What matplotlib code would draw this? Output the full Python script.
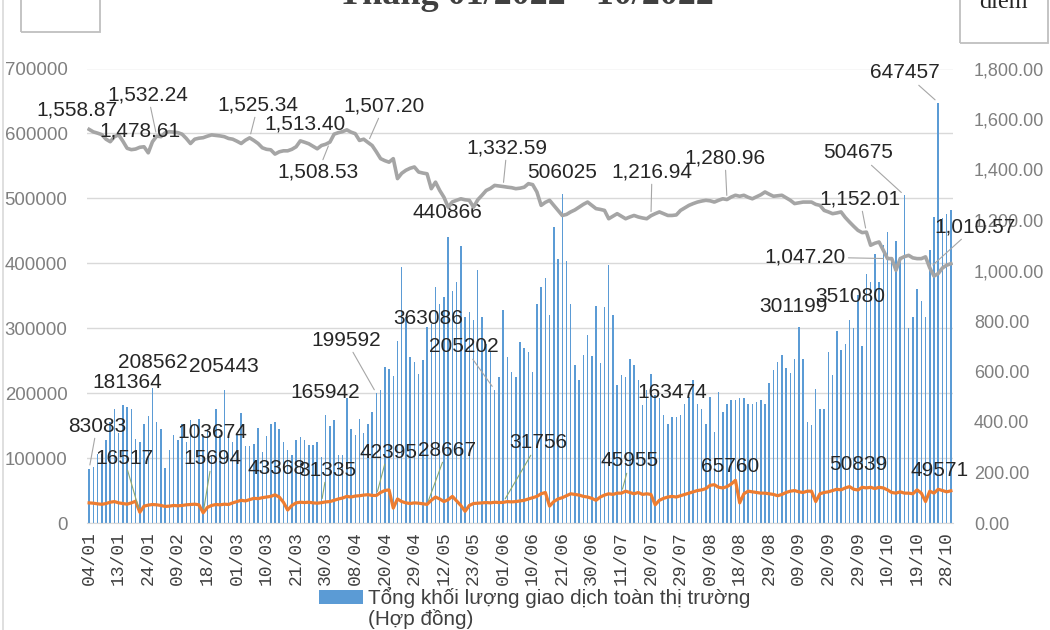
import matplotlib
matplotlib.use("Agg")
import matplotlib.pyplot as plt
from matplotlib.patches import Rectangle
from matplotlib.lines import Line2D
from matplotlib.font_manager import fontManager
import pandas as pd

# trading days 04/01/2022 - 31/10/2022 (exchange holidays removed)
HOLIDAYS = ["2022-01-31", "2022-02-01", "2022-02-02", "2022-02-03", "2022-02-04",
            "2022-04-11", "2022-05-02", "2022-05-03", "2022-09-01", "2022-09-02"]
DAYS = pd.bdate_range("2022-01-04", "2022-10-31", freq="C", holidays=HOLIDAYS)

# total market volume (contracts) - bars, left axis
VOLUME = [
    83083, 87000, 107000, 106000, 128000, 155000, 176000, 138000, 181364, 179000,
    175000, 130000, 125000, 153000, 165000, 208562, 155000, 145000, 84000, 112000,
    135000, 128000, 153000, 125000, 158000, 152000, 160000, 132000, 145000, 103674,
    176000, 135000, 205443, 132000, 125000, 135000, 170000, 118000, 118000, 122000,
    147000, 110000, 134000, 152000, 156000, 145000, 125000, 112000, 105000, 128000,
    133000, 128000, 120000, 120000, 125000, 102000, 165942, 150000, 158000, 104000,
    104000, 192000, 145000, 135000, 160000, 138000, 153000, 171000, 199592, 205000,
    240000, 237000, 227000, 281000, 394000, 317000, 256000, 248000, 230000, 251000,
    302000, 307000, 363086, 338000, 348000, 440866, 358000, 371000, 426000, 318000,
    325000, 312000, 389000, 318000, 276000, 264000, 205202, 225000, 328000, 256000,
    233000, 225000, 279000, 269000, 264000, 233000, 338000, 363000, 378000, 320000,
    456000, 406000, 506025, 404000, 338000, 243000, 220000, 258000, 289000, 257000,
    334000, 246000, 332000, 398000, 320000, 212000, 228000, 225000, 252000, 243000,
    221000, 181000, 205000, 230000, 197000, 192000, 166000, 153000, 164000, 163474,
    166000, 184000, 194000, 220000, 184000, 176000, 153000, 194000, 140000, 202000,
    171000, 184000, 189000, 189000, 192000, 192000, 184000, 184000, 187000, 189000,
    184000, 215000, 236000, 248000, 259000, 239000, 231000, 253000, 301199, 253000,
    156000, 151000, 207000, 175000, 175000, 264000, 228000, 296000, 267000, 276000,
    312000, 301000, 351080, 272000, 384000, 371000, 415000, 371000, 428000, 448000,
    407000, 434000, 409000, 504675, 301000, 317000, 361000, 342000, 318000, 420000,
    472000, 647457, 470000, 476000, 482000,
]

# orange line, left axis (contracts)
OPEN_INT = [
    31000, 30500, 29500, 28800, 30000, 32000, 33000, 31000, 30000, 29000,
    31000, 33500, 16517, 26000, 27500, 28500, 28000, 27000, 25500, 26000,
    27000, 26500, 27000, 28000, 28500, 29000, 28000, 15694, 24000, 27000,
    28500, 28000, 29000, 28500, 31000, 33000, 35000, 34000, 36000, 38000,
    37500, 39000, 40000, 41000, 43368, 40000, 32000, 20000, 27000, 31000,
    32000, 31500, 32000, 31000, 30500, 31335, 32500, 33000, 35000, 37000,
    38500, 41000, 40000, 41500, 42000, 43000, 43600, 42500, 42395, 47000,
    50000, 51000, 23000, 37000, 33000, 31000, 30000, 31000, 30500, 29500,
    28667, 35000, 40000, 37000, 33000, 36000, 41000, 34000, 27000, 18000,
    27000, 30000, 30500, 31000, 31500, 31000, 32000, 31500, 31756, 33000,
    32500, 33000, 34000, 35000, 37000, 39000, 41000, 45000, 47000, 26000,
    33000, 37000, 39000, 42000, 45000, 44000, 43000, 41000, 40000, 38000,
    35000, 40000, 43000, 45000, 44000, 46000, 45955, 49000, 47000, 45000,
    47000, 44000, 45000, 44000, 28000, 35000, 38000, 40000, 41000, 40000,
    42000, 44000, 46000, 48000, 50000, 51000, 53000, 58000, 59000, 55000,
    54000, 56000, 60000, 65760, 31000, 45000, 49000, 48000, 47000, 46000,
    46000, 45000, 44000, 42000, 44000, 47000, 49000, 50000, 48000, 47000,
    49000, 49000, 33000, 45000, 47000, 48000, 50000, 52000, 51000, 54000,
    56000, 52000, 50839, 55000, 54000, 55000, 53000, 55000, 54000, 51000,
    47000, 46000, 48000, 46000, 46000, 45000, 51000, 46000, 33000, 49000,
    46000, 52000, 50000, 48000, 49571,
]

# index points, grey line, right axis
INDEX = [
    1558.87, 1549, 1544, 1538, 1520, 1510, 1530, 1537, 1512, 1484,
    1478.61, 1481, 1488, 1490, 1466, 1510, 1532.24, 1530, 1545, 1550,
    1548, 1546, 1540, 1523, 1503, 1520, 1524, 1526, 1532, 1537,
    1535, 1533, 1530, 1523, 1520, 1512, 1503, 1516, 1525.34, 1515,
    1503, 1486, 1480, 1478, 1461, 1470, 1474, 1474, 1480, 1490,
    1513.40, 1508, 1502, 1492, 1482, 1495, 1500, 1508.53, 1540, 1546,
    1550, 1557, 1548, 1542, 1515, 1520, 1507.20, 1495, 1470, 1443,
    1435, 1429, 1443, 1364, 1385, 1397, 1405, 1410, 1390, 1386,
    1383, 1324, 1350, 1317, 1290, 1251, 1272, 1278, 1284, 1280,
    1278, 1251, 1280, 1298, 1317, 1325, 1337, 1335, 1332.59, 1330,
    1328, 1324, 1326, 1330, 1344, 1340, 1311, 1258, 1270, 1278,
    1258, 1238, 1218, 1222, 1232, 1240, 1251, 1262, 1271, 1258,
    1245, 1242, 1238, 1205, 1215, 1225, 1215, 1205, 1212, 1218,
    1212, 1208, 1205, 1216.94, 1225, 1232, 1225, 1218, 1218, 1220,
    1238, 1248, 1258, 1265, 1271, 1275, 1278, 1276, 1271, 1278,
    1284, 1280.96, 1291, 1298, 1294, 1298, 1290, 1284, 1292, 1300,
    1311, 1302, 1294, 1296, 1298, 1288, 1278, 1265, 1268, 1271,
    1271, 1271, 1262, 1258, 1238, 1232, 1225, 1228, 1232, 1210,
    1192, 1175, 1159, 1150, 1152.01, 1100, 1108, 1113, 1080, 1047.20,
    1047, 1001, 1047, 1055, 1060, 1050, 1047, 1047, 1054, 1010.57,
    978, 988, 1010, 1021, 1027,
]
assert len(DAYS) == len(VOLUME) == len(OPEN_INT) == len(INDEX)

TICK_STEP = 7
LEGEND_TXT = ["Tổng khối lượng giao dịch toàn thị trường", "(Hợp đồng)"]
TITLE = "Tháng 01/2022 - 10/2022"

# data labels: (point index, text centre x px, text centre y px from top, leader line)
INDEX_LABELS = [(0, 77, 110, False), (16, 148, 95, True), (10, 140, 131, False),
                (38, 258, 105, True), (50, 305, 124, False), (57, 318, 172, True),
                (66, 384, 106, True), (98, 507, 148, True), (133, 652, 172, True),
                (151, 725, 158, True), (184, 860, 199, True), (189, 805, 257, True),
                (199, 975, 227, True)]
VOLUME_LABELS = [(0, 97, 426, True), (8, 127, 383, False), (15, 153, 363, False),
                 (32, 224, 366, False), (29, 212, 432, False), (56, 325, 392, False),
                 (68, 346, 340, True), (82, 428, 318, False), (96, 464, 347, True),
                 (85, 447, 213, False), (112, 562, 172, False), (139, 672, 393, False),
                 (168, 793, 306, False), (182, 850, 297, False), (193, 858, 153, True),
                 (201, 905, 73, True)]
OI_LABELS = [(12, 124, 458, True), (27, 212, 459, True), (44, 277, 469, False),
             (55, 327, 470, True), (68, 388, 452, True), (80, 447, 450, True),
             (98, 538, 443, True), (126, 630, 461, True), (153, 730, 467, False),
             (182, 858, 465, False), (204, 940, 470, False)]

BLUE, ORANGE, GREY = "#5B9BD5", "#ED7D31", "#A5A5A5"
W, H = 1050, 630
SANS = "Liberation Sans"
NARROW = "Liberation Sans Narrow" if any(f.name == "Liberation Sans Narrow" for f in fontManager.ttflist) else SANS

fig = plt.figure(figsize=(W / 100, H / 100), dpi=100)
ax = fig.add_axes([87 / W, 1 - 523 / H, (953 - 87) / W, (523 - 68.5) / H])
x = list(range(len(DAYS)))

ax.bar(x, VOLUME, width=0.35, color=BLUE, zorder=2)
ax.plot(x, OPEN_INT, color=ORANGE, lw=2.3, zorder=3, solid_joinstyle="round")
ax.set_xlim(-0.5, len(DAYS) - 0.5)
ax.set_ylim(0, 700000)
ax.set_yticks(range(0, 700001, 100000))
ax.grid(axis="y", color="#D9D9D9", lw=1, zorder=0)
ax.set_axisbelow(True)
for s in ("top", "left", "right"):
    ax.spines[s].set_visible(False)
ax.spines["bottom"].set_color("#D9D9D9")
ax.tick_params(axis="y", length=0, pad=14, labelsize=13.4, labelcolor="#7F7F7F")
for t in ax.get_yticklabels():
    t.set_family(SANS)
ticks = x[::TICK_STEP]
ax.set_xticks(ticks)
ax.set_xticklabels([DAYS[i].strftime("%d/%m") for i in ticks], rotation=90,
                   family="Liberation Mono", fontsize=13, color="#404040")
ax.tick_params(axis="x", length=0, pad=6)

ax2 = ax.twinx()
ax2.plot(x, INDEX, color=GREY, lw=2.6, zorder=4, solid_joinstyle="round")
ax2.set_ylim(0, 1800)
ax2.set_yticks(range(0, 1801, 200))
ax2.set_yticklabels([f"{v:,.2f}" for v in range(0, 1801, 200)], family=SANS)
ax2.tick_params(axis="y", length=0, pad=15, labelsize=13, labelcolor="#7F7F7F")
for s in ax2.spines.values():
    s.set_visible(False)


def put_labels(axis, values, specs, fmt, leader_color):
    for i, tx, ty, lead in specs:
        axis.annotate(fmt(values[i]), (i, values[i]), xytext=(tx, H - ty), textcoords="figure pixels",
                      ha="center", va="center", fontsize=15, family=SANS, color="#262626", zorder=6,
                      arrowprops=dict(arrowstyle="-", color=leader_color, lw=0.8, shrinkA=0, shrinkB=3)
                      if lead else None, annotation_clip=False)


put_labels(ax, VOLUME, VOLUME_LABELS, lambda v: f"{v}", "#A6A6A6")
put_labels(ax, OPEN_INT, OI_LABELS, lambda v: f"{v}", "#8CA870")
put_labels(ax2, INDEX, INDEX_LABELS, lambda v: f"{v:,.2f}", "#A6A6A6")

# legend (bars only): two lines, first line squeezed to the reference width
fig.add_artist(Rectangle((319 / W, 1 - 604 / H), 44 / W, 14 / H, transform=fig.transFigure,
                         fc=BLUE, ec="none"))
leg1 = fig.text(368 / W, 1 - 597 / H, LEGEND_TXT[0], ha="left", va="center", fontsize=14,
                family=NARROW, color="#404040")
leg2 = fig.text(368 / W, 1 - 619 / H, LEGEND_TXT[1], ha="left", va="center", fontsize=14,
                family=NARROW, color="#404040")
r = fig.canvas.get_renderer()
scale = 384 / leg1.get_window_extent(r).width
leg1.set_fontsize(14 * scale)
leg2.set_fontsize(14 * scale)

# title and axis-title boxes, cut by the top edge
fig.text(526 / W, 1 - 3.5 / H, TITLE, ha="center", va="baseline", fontsize=26,
         family="Liberation Serif", weight="bold", color="#404040")
fig.add_artist(Rectangle((21 / W, 1 - 32 / H), 79 / W, 40 / H, transform=fig.transFigure,
                         fill=False, ec="#BFBFBF", lw=1.3))
fig.add_artist(Rectangle((960 / W, 1 - 43 / H), 88 / W, 50 / H, transform=fig.transFigure,
                         fill=False, ec="#BFBFBF", lw=1.3))
fig.text(1003 / W, 1 - 8 / H, "điểm", ha="center", va="baseline", fontsize=17.5,
         family="Liberation Serif", color="#262626")
fig.add_artist(Line2D([3 / W, 3 / W], [0, 1], transform=fig.transFigure, color="#D9D9D9", lw=1.2))

fig.savefig("out.png", dpi=100)
